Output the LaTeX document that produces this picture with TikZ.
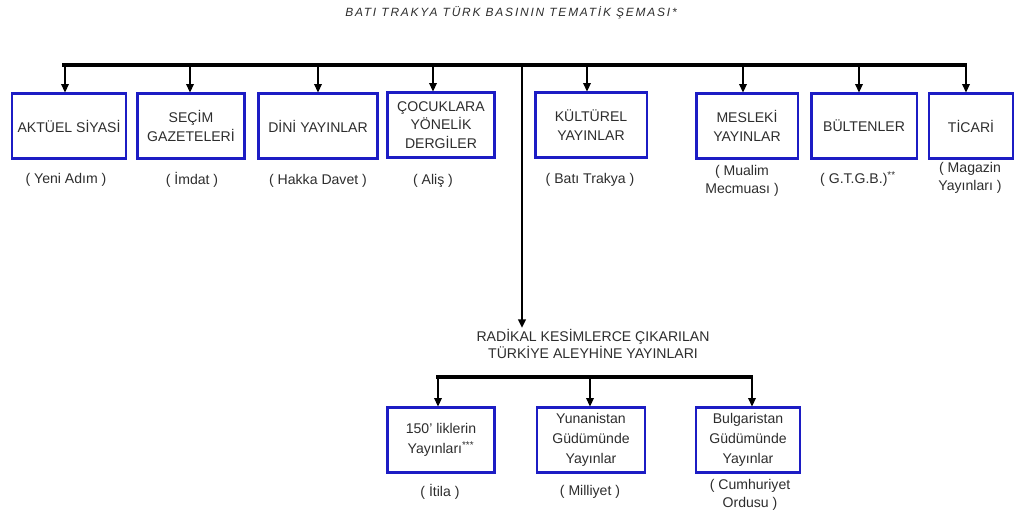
\documentclass[tikz,border=0pt]{standalone}
\usepackage{fontspec}
\setmainfont{Liberation Sans}
\usepackage{tikz}
\usetikzlibrary{arrows.meta,positioning,calc}
\definecolor{boxblue}{RGB}{28,28,196}
\definecolor{txtgray}{RGB}{45,45,45}

\begin{document}
\begin{tikzpicture}[x=0.025cm, y=-0.025cm,
  box/.style={draw=boxblue, line width=1.6pt, align=center, inner sep=2pt,
              minimum height=1.62cm, text=txtgray,
              font=\fontsize{10}{13}\selectfont},
  note/.style={align=center, inner sep=1pt, text=txtgray,
              font=\fontsize{10}{12.5}\selectfont},
  bar/.style={line width=2.2pt},
  ar/.style={-{Triangle[length=6pt, width=5.5pt]}, line width=0.8pt}
]
\useasboundingbox (0,0) rectangle (1016,520);

% --- title --------------------------------------------------------------
\node[note, font=\fontsize{8.5}{10}\selectfont\itshape\addfontfeature{LetterSpace=15}]
  (title) at (511,13) {BATI TRAKYA TÜRK BASININ TEMATİK ŞEMASI*};

% --- upper row ----------------------------------------------------------
\node[box, minimum width=2.85cm]  (aktuel)  at (69,126)  {AKTÜEL SİYASİ};
\node[box, minimum width=2.68cm]  (secim)   at (191,126) {SEÇİM\\GAZETELERİ};
\node[box, minimum width=2.98cm]  (dini)    at (318,126) {DİNİ YAYINLAR};
\node[box, minimum width=2.68cm]  (cocuk)   at (441,125) {ÇOCUKLARA\\YÖNELİK\\DERGİLER};
\node[box, minimum width=2.78cm]  (kultur)  at (591,125) {KÜLTÜREL\\YAYINLAR};
\node[box, minimum width=2.53cm]  (meslek)  at (747,126) {MESLEKİ\\YAYINLAR};
\node[box, minimum width=2.63cm]  (bulten)  at (864,126) {BÜLTENLER};
\node[box, minimum width=2.10cm]  (ticari)  at (971,126) {TİCARİ};

\node[note] (c-aktuel) at (66,180)  {( Yeni Adım )};
\node[note] (c-secim)  at (192,180) {( İmdat )};
\node[note] (c-dini)   at (318,181) {( Hakka Davet )};
\node[note] (c-cocuk)  at (433,181) {( Aliş )};
\node[note] (c-kultur) at (590,180) {( Batı Trakya )};
\node[note] (c-meslek) at (742,181) {( Mualim\\Mecmuası )};
\node[note] (c-bulten) at (858,179) {( G.T.G.B.)\textsuperscript{**}};
\node[note] (c-ticari) at (970,178) {( Magazin\\Yayınları )};

\coordinate (tl) at (62,65);
\coordinate (tr) at (967,65);
\draw[bar] (tl) -- (tr);
\foreach \xa/\nd in {65/aktuel, 190/secim, 318/dini, 433/cocuk,
                     587/kultur, 743/meslek, 859/bulten, 966/ticari}
  \draw[ar] (\xa,0 |- tl) -- (\nd.north -| \xa,0);

% --- lower branch -------------------------------------------------------
\node[note, font=\fontsize{10}{12}\selectfont] (radikal) at (593,344)
  {RADİKAL KESİMLERCE ÇIKARILAN\\TÜRKİYE ALEYHİNE YAYINLARI};
\draw[line width=1.4pt, -{Triangle[length=6pt, width=5.5pt]}]
  (522,0 |- tl) -- (radikal.north -| 522,0);

\node[box, minimum width=2.68cm, font=\fontsize{10}{14}\selectfont] (yuzelli) at (441,440)
  {150' liklerin\\Yayınları\textsuperscript{***}};
\node[box, minimum width=2.70cm, font=\fontsize{10}{14}\selectfont] (yunan)   at (591,440)
  {Yunanistan\\Güdümünde\\Yayınlar};
\node[box, minimum width=2.60cm, font=\fontsize{10}{14}\selectfont] (bulgar)  at (748,440)
  {Bulgaristan\\Güdümünde\\Yayınlar};

\node[note] (c-yuzelli) at (440,492) {( İtila )};
\node[note] (c-yunan)   at (590,492) {( Milliyet )};
\node[note] (c-bulgar)  at (750,495) {( Cumhuriyet\\Ordusu )};

\coordinate (bl) at (436,377);
\coordinate (br) at (753,377);
\draw[bar] (bl) -- (br);
\foreach \xa/\nd in {438/yuzelli, 590/yunan, 752/bulgar}
  \draw[ar] (\xa,0 |- bl) -- (\nd.north -| \xa,0);
\end{tikzpicture}
\end{document}
